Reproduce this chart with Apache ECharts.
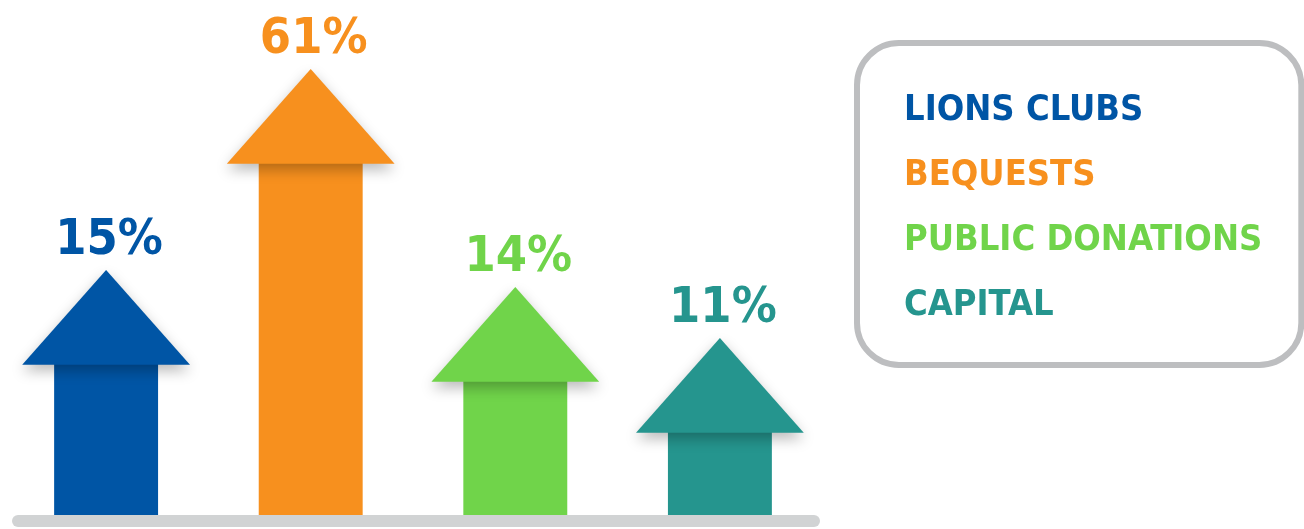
<!DOCTYPE html>
<html>
<head>
<meta charset="utf-8">
<script src="https://cdn.jsdelivr.net/npm/echarts@6/dist/echarts.min.js"></script>
<style>
  html, body { margin: 0; padding: 0; background: #ffffff; }
  #chart { width: 1304px; height: 529px; }
</style>
</head>
<body>
<div id="chart"></div>
<script>
// ---- data ----
const categories = ['LIONS CLUBS', 'BEQUESTS', 'PUBLIC DONATIONS', 'CAPITAL'];
const shares = [15, 61, 14, 11];                 // percentage labels
const arrowLength = [49, 89.2, 45.6, 35.4];      // drawn arrow length (relative units, 0-100)
const colors = ['#0055A5', '#F7901E', '#70D44A', '#25958E'];

const FONT = "'DejaVu Sans Condensed', 'DejaVu Sans', sans-serif";

function renderArrow(params, api) {
  const idx = api.value(0);
  const tip = api.coord([idx, api.value(1)]);
  const base = api.coord([idx, 0]);
  const band = api.size([1, 0])[0];
  const headW = band * 0.82;
  const shaftW = band * 0.508;
  const headH = headW * 0.565;
  const cx = tip[0];
  const headBaseY = tip[1] + headH;
  const color = api.visual('color');
  return {
    type: 'group',
    children: [
      {
        type: 'rect',
        shape: { x: cx - shaftW / 2, y: headBaseY - 1, width: shaftW, height: base[1] - headBaseY + 1 },
        style: { fill: color }
      },
      {
        type: 'polygon',
        shape: { points: [[cx, tip[1]], [cx + headW / 2, headBaseY], [cx - headW / 2, headBaseY]] },
        style: {
          fill: color,
          shadowBlur: 14,
          shadowOffsetY: 6,
          shadowColor: 'rgba(0,0,0,0.28)'
        }
      },
      {
        type: 'text',
        x: cx + 3,
        y: tip[1] - 4,
        style: {
          text: api.value(2) + '%',
          fill: color,
          font: 'bold 50px ' + FONT,
          align: 'center',
          verticalAlign: 'bottom'
        }
      }
    ]
  };
}

const series = categories.map((name, i) => ({
  name: name,
  type: 'custom',
  color: colors[i],
  renderItem: renderArrow,
  encode: { x: 0, y: 1 },
  data: [[i, arrowLength[i], shares[i]]],
  z: 3
}));

const chart = echarts.init(document.getElementById('chart'), null, { renderer: 'canvas' });
chart.setOption({
  backgroundColor: '#ffffff',
  animation: false,
  grid: { left: 3.8, right: 481.8, top: 15, bottom: 14 },
  xAxis: { type: 'category', data: categories, show: false },
  yAxis: { type: 'value', min: 0, max: 100, show: false },
  legend: {
    orient: 'vertical',
    left: 857,
    top: 43,
    padding: [50, 39, 41, 42],
    itemGap: 29,
    itemWidth: 0,
    itemHeight: 0,
    icon: 'rect',
    selectedMode: false,
    borderColor: '#BDBEC0',
    borderWidth: 6,
    borderRadius: 42,
    backgroundColor: '#ffffff',
    textStyle: { fontSize: 36, fontWeight: 'bold', fontFamily: FONT },
    data: categories.map((name, i) => ({ name: name, textStyle: { color: colors[i] } }))
  },
  graphic: [{
    type: 'rect',
    left: 12,
    top: 515,
    shape: { width: 808, height: 12, r: 6 },
    style: { fill: '#D1D3D4' },
    z: 1
  }],
  series: series
});
</script>
</body>
</html>
